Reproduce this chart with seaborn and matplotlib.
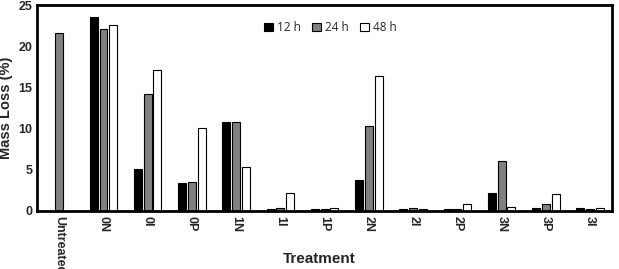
import numpy as np
import pandas as pd
import matplotlib
matplotlib.use('Agg')
import matplotlib.pyplot as plt
import seaborn as sns

treatments = ['Untreated', '0N', '0I', '0P', '1N', '1I', '1P', '2N', '2I', '2P', '3N', '3P', '3I']
times = ['12 h', '24 h', '48 h']
loss_12h = [np.nan, 23.5, 5.1, 3.4, 10.8, 0.2, 0.2, 3.8, 0.2, 0.2, 2.2, 0.3, 0.3]
loss_24h = [21.6, 22.1, 14.2, 3.5, 10.8, 0.35, 0.25, 10.3, 0.35, 0.25, 6.1, 0.8, 0.25]
loss_48h = [np.nan, 22.6, 17.1, 10.1, 5.3, 2.2, 0.35, 16.4, 0.25, 0.8, 0.45, 2.1, 0.35]

df = pd.DataFrame({
    'Treatment': treatments * 3,
    'Time': [t for t in times for _ in treatments],
    'Loss': loss_12h + loss_24h + loss_48h,
})

sns.set_style('white')
plt.rcParams['font.family'] = ['Liberation Sans', 'DejaVu Sans']

fig, ax = plt.subplots(figsize=(6.19, 2.69), dpi=100)
sns.barplot(data=df, x='Treatment', y='Loss', hue='Time', order=treatments, hue_order=times,
            palette={'12 h': 'black', '24 h': '#808080', '48 h': 'white'},
            edgecolor='black', linewidth=0.8, width=0.66, gap=0.18, ax=ax)

ax.set_ylim(0, 25)
ax.set_yticks([0, 5, 10, 15, 20, 25])
ax.set_xlim(-0.5, len(treatments) - 0.5)
ax.tick_params(axis='both', length=0, labelsize=9)
for lab in ax.get_yticklabels():
    lab.set_fontweight('bold')
for lab in ax.get_xticklabels():
    lab.set_fontweight('bold')
    lab.set_rotation(-90)
    lab.set_va('top')
ax.set_ylabel('Mass Loss (%)', fontsize=10.5, fontweight='bold', labelpad=4)
ax.set_xlabel('Treatment', fontsize=11, fontweight='bold')
ax.xaxis.set_label_coords(0.49, -0.2)

for s in ax.spines.values():
    s.set_visible(True)
    s.set_color('black')
    s.set_linewidth(2)

leg = ax.legend(loc='center', bbox_to_anchor=(0.51, 0.89), ncol=3, frameon=False,
                handlelength=0.75, handleheight=0.75, handletextpad=0.3, columnspacing=1.0,
                prop={'family': 'Open Sans', 'size': 8.5})

fig.subplots_adjust(left=0.06, right=0.989, top=0.981, bottom=0.216)
fig.savefig('out.png', dpi=100)
